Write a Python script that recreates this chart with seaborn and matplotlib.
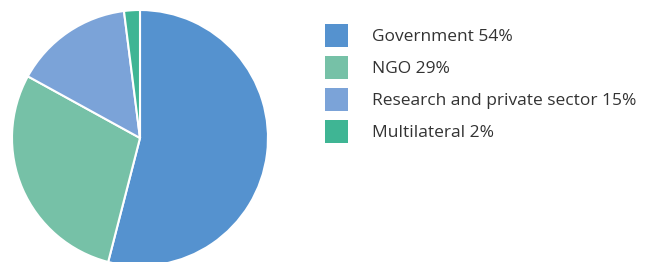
import matplotlib
matplotlib.use("Agg")
import matplotlib.pyplot as plt
from matplotlib.patches import Patch
import seaborn as sns

# funding shares (%)
categories = ["Government", "NGO", "Research and private sector", "Multilateral"]
shares = [54, 29, 15, 2]
colors = ["#5592cf", "#76c1a7", "#7ba3d8", "#3fb594"]

sns.set_theme(style="white")
plt.rcParams["font.family"] = ["Open Sans", "DejaVu Sans"]

W, H = 651, 262
fig = plt.figure(figsize=(W / 100, H / 100), dpi=100)
fig.patch.set_facecolor("white")

# pie axes, centred around (140, 138) px, radius 128 px
ax = fig.add_axes([12 / W, -4 / H, 256 / W, 256 / H])
ax.pie(shares, colors=colors, startangle=90, counterclock=False,
       wedgeprops=dict(edgecolor="white", linewidth=1.5))
ax.set_xlim(-1, 1)
ax.set_ylim(-1, 1)
ax.axis("off")

labels = [f"{c} {s}%" for c, s in zip(categories, shares)]
handles = [Patch(facecolor=c, edgecolor="none") for c in colors]
fs = 12.5
fig.legend(handles, labels, loc="upper left",
           bbox_to_anchor=(325 / W, 1 - 24 / H), frameon=False,
           fontsize=fs, handlelength=1.32, handleheight=1.66,
           handletextpad=1.38, labelspacing=0.52, borderaxespad=0,
           borderpad=0, labelcolor="#333333")

fig.savefig("out.png", dpi=100)
